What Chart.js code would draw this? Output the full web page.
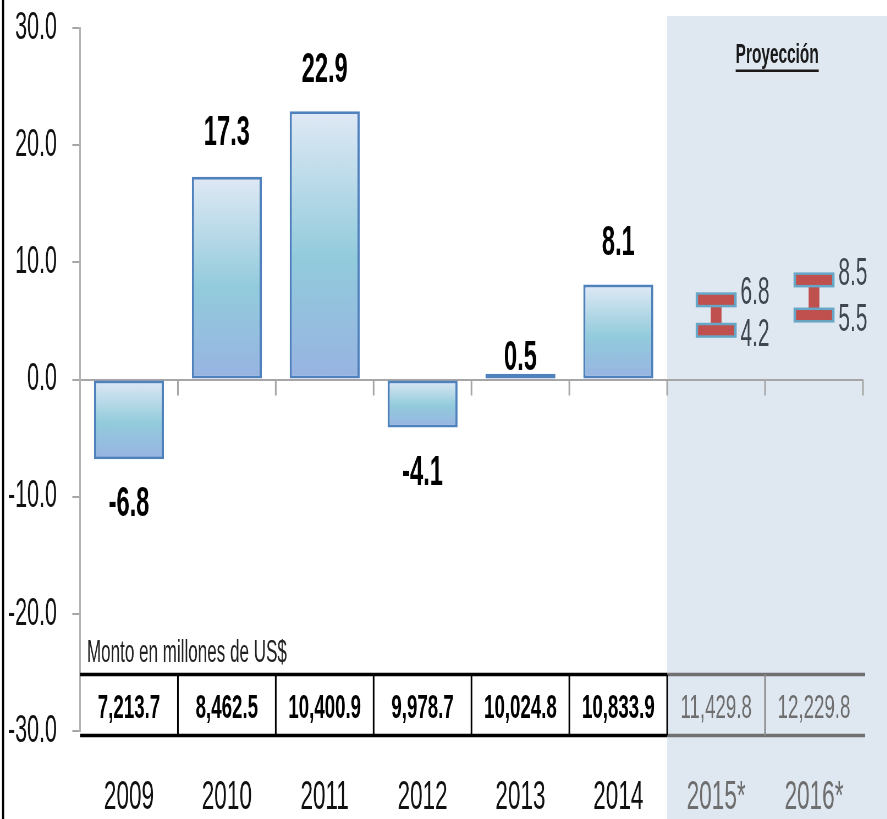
<!DOCTYPE html>
<html>
<head>
<meta charset="utf-8">
<script src="https://cdn.jsdelivr.net/npm/chart.js@4.4.0/dist/chart.umd.min.js"></script>
<style>
  html, body { margin:0; padding:0; background:#fff; overflow:hidden; }
  /* the source picture is squeezed sideways, so draw wide and squeeze */
  #chart { display:block; transform:scaleX(0.55); transform-origin:0 0; }
</style>
</head>
<body>
<canvas id="chart" width="1613" height="819"></canvas>
<script>
'use strict';
// ── data ────────────────────────────────────────────────
const years    = ['2009', '2010', '2011', '2012', '2013', '2014', '2015*', '2016*'];
const growth   = [-6.8, 17.3, 22.9, -4.1, 0.5, 8.1, null, null];
const projLow  = [null, null, null, null, null, null, 4.2, 5.5];
const projHigh = [null, null, null, null, null, null, 6.8, 8.5];
const amounts  = ['7,213.7', '8,462.5', '10,400.9', '9,978.7', '10,024.8', '10,833.9', '11,429.8', '12,229.8'];
const yTicks   = [-30, -20, -10, 0, 10, 20, 30];
const firstProj = 6;

// label gap from bar end (px), style only
const labelGap = [41, 47, 45, 42, 19, 45];

const FONT  = "'Liberation Sans', Arial, sans-serif";
const SHADE = '#dfe7f1';
const GRAY  = '#a6a6a6';

function barGradient(c) {
  const chart = c.chart;
  const v = c.raw;
  if (!chart.chartArea || v == null) return '#93cddd';
  const y = chart.scales.y;
  const top = y.getPixelForValue(Math.max(v, 0));
  const bot = y.getPixelForValue(Math.min(v, 0));
  const g = chart.ctx.createLinearGradient(0, top, 0, bot);
  g.addColorStop(0,    '#e0e9f5');
  g.addColorStop(0.55, '#92cbdc');
  g.addColorStop(1,    '#98b3e2');
  return g;
}

// ── extra drawing: shade, frame, caps, labels, table ───
const decor = {
  id: 'decor',
  beforeDraw(chart) {
    const { ctx, width, height } = chart;
    const x = chart.scales.x;
    const sx = x.getPixelForValue(firstProj - 0.5);
    ctx.save();
    ctx.fillStyle = '#fff';
    ctx.fillRect(0, 0, width, height);
    ctx.fillStyle = SHADE;
    ctx.fillRect(sx, 16, width - sx, height - 16);
    ctx.fillStyle = '#000';
    ctx.fillRect(3.5, 0, 4, height);
    ctx.restore();
  },
  afterDraw(chart) {
    const { ctx, width } = chart;
    const x = chart.scales.x, y = chart.scales.y;
    const y0 = y.getPixelForValue(0);
    const sx = x.getPixelForValue(firstProj - 0.5);
    ctx.save();

    // ticks under the zero line, at category edges
    ctx.fillStyle = GRAY;
    for (let i = 0; i < years.length; i++) {
      const bx = x.getPixelForValue(i + 0.5);
      ctx.fillRect(bx - 1.5, y0, 3, 16);
    }

    // bar value labels
    ctx.fillStyle = '#000';
    ctx.font = `bold 43px ${FONT}`;
    ctx.textAlign = 'center';
    ctx.textBaseline = 'alphabetic';
    growth.forEach((v, i) => {
      if (v == null) return;
      const end = y.getPixelForValue(v);
      const cy = v >= 0 ? end - labelGap[i] : end + labelGap[i];
      ctx.fillText(v.toFixed(1), x.getPixelForValue(i), cy + 0.358 * 43);
    });

    // projection caps + labels
    const capW = 74.5, capH = 15;
    projLow.forEach((lo, i) => {
      if (lo == null) return;
      const cx = x.getPixelForValue(i);
      const hi = projHigh[i];
      [lo, hi].forEach(v => {
        const cy = y.getPixelForValue(v);
        ctx.fillStyle = '#66a6c6';
        ctx.fillRect(cx - capW / 2, cy - capH / 2, capW, capH);
        ctx.fillStyle = '#c0504d';
        ctx.fillRect(cx - capW / 2 + 4.5, cy - capH / 2 + 2.5, capW - 9, capH - 5);
      });
      ctx.fillStyle = '#3f4650';
      ctx.font = `38px ${FONT}`;
      ctx.textAlign = 'left';
      const tx = cx + capW / 2 + 7;
      ctx.fillText(hi.toFixed(1), tx, y.getPixelForValue(hi) - 9 + 0.358 * 38);
      ctx.fillText(lo.toFixed(1), tx, y.getPixelForValue(lo) + 2 + 0.358 * 38);
    });

    // amounts table
    const tTop = 674.5, tBot = 735.5, right = x.right + 4;
    ctx.fillStyle = '#000';
    ctx.fillRect(x.left, tTop - 1.75, sx - x.left, 3.5);
    ctx.fillRect(x.left, tBot - 1.75, sx - x.left, 3.5);
    ctx.fillStyle = '#707070';
    ctx.fillRect(sx, tTop - 1.75, right - sx, 3.5);
    ctx.fillRect(sx, tBot - 1.75, right - sx, 3.5);
    for (let i = 0; i < years.length - 1; i++) {
      const bx = x.getPixelForValue(i + 0.5);
      ctx.fillStyle = i + 1 > firstProj ? '#8c8c8c' : '#000';
      ctx.fillRect(bx - 1.5, tTop, 3, tBot - tTop);
    }
    ctx.textAlign = 'center';
    amounts.forEach((a, i) => {
      const proj = i >= firstProj;
      ctx.font = `${proj ? '' : 'bold '}34px ${FONT}`;
      ctx.fillStyle = proj ? '#6e6e6e' : '#000';
      ctx.fillText(a, x.getPixelForValue(i), 706 + 0.358 * 34);
    });

    // table caption
    ctx.fillStyle = '#222';
    ctx.font = `31px ${FONT}`;
    ctx.textAlign = 'left';
    ctx.fillText('Monto en millones de US$', 158, 662);

    // projection heading
    const px = (sx + width) / 2;
    ctx.font = `bold 28px ${FONT}`;
    ctx.textAlign = 'center';
    ctx.fillStyle = '#1a1a1a';
    ctx.fillText('Proyección', px, 63);
    const tw = ctx.measureText('Proyección').width;
    ctx.fillRect(px - tw / 2, 69.5, tw, 2.5);

    ctx.restore();
  },
};

// ── chart ───────────────────────────────────────────────
const ctx = document.getElementById('chart').getContext('2d');
new Chart(ctx, {
  type: 'bar',
  data: {
    labels: years,
    datasets: [
      {
        data: growth,
        backgroundColor: barGradient,
        borderColor: '#4f81bd',
        borderWidth: { top: 3, bottom: 3, left: 4, right: 4 },
        borderSkipped: false,
        barPercentage: 0.715, categoryPercentage: 1, grouped: false,
      },
      {
        data: years.map((_, i) => projLow[i] == null ? null : [projLow[i], projHigh[i]]),
        backgroundColor: '#c0504d',
        borderWidth: 0,
        barPercentage: 0.11, categoryPercentage: 1, grouped: false,
      },
    ],
  },
  options: {
    responsive: false,
    animation: false,
    layout: { padding: { top: 28, right: 44, left: 0, bottom: 0 } },
    plugins: { legend: { display: false }, tooltip: { enabled: false } },
    scales: {
      x: {
        grid: { display: false, drawTicks: false },
        border: { display: false },
        ticks: {
          padding: 42,
          font: { family: FONT, size: 41 },
          color: c => c.index >= firstProj ? '#6e6e6e' : '#111',
        },
        afterFit: s => { s.height = 88; },
      },
      y: {
        min: -30, max: 30,
        afterBuildTicks: s => { s.ticks = yTicks.map(v => ({ value: v })); },
        ticks: {
          padding: 28,
          font: { family: FONT, size: 39 },
          color: '#111',
          callback: v => Number(v).toFixed(1),
        },
        grid: {
          color: c => c.tick && c.tick.value === 0 ? GRAY : 'rgba(0,0,0,0)',
          lineWidth: 2,
          tickColor: GRAY,
          tickWidth: 2,
          tickLength: 14,
        },
        border: { color: '#b3b3b3', width: 3 },
        afterFit: s => { s.width = 145.5; s.paddingTop = 0; s.paddingBottom = 0; },
      },
    },
  },
  plugins: [decor],
});
</script>
</body>
</html>
